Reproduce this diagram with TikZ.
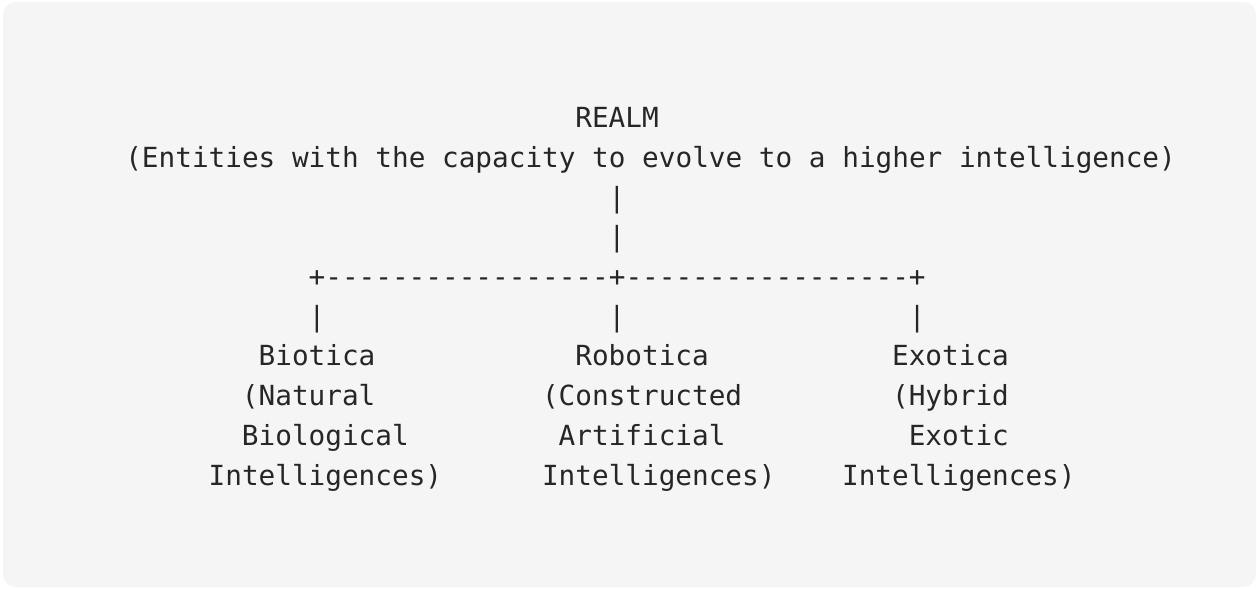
\documentclass[tikz,border=0pt]{standalone}
\usepackage{fontspec}
\newfontfamily\asciifont{DejaVu Sans Mono}
\definecolor{panel}{HTML}{F5F5F5}
\definecolor{ink}{HTML}{262626}
\tikzset{
  ascii/.style={anchor=base west, inner sep=0pt, outer sep=0pt, text=ink,
                font=\asciifont\fontsize{27.7pt}{33pt}\selectfont},
}
\begin{document}
\begin{tikzpicture}[x=1pt, y=-1pt]
  % canvas and rounded panel
  \fill[white] (0,0) rectangle (1259,589);
  \useasboundingbox (0,0) rectangle (1259,589);
  \fill[panel, rounded corners=13pt] (3,2) rectangle (1256,587);

  % character grid: one unit per column, one per row
  \begin{scope}[shift={(125.3,127.7)}, x=16.67pt, y=-39.7pt]
    \node[ascii] (realm) at (27,0) {REALM};
    \node[ascii] (realmdesc) at (0,1) {(Entities with the capacity to evolve to a higher intelligence)};
    \node[ascii] (stem1) at (29,2) {|};
    \node[ascii] (stem2) at (29,3) {|};
    \node[ascii] (bar) at (11,4) {+-----------------+-----------------+};
    \node[ascii] (dropB) at (11,5) {|};
    \node[ascii] (dropR) at (29,5) {|};
    \node[ascii] (dropE) at (47,5) {|};

    \node[ascii] (bio) at (8,6) {Biotica};
    \node[ascii] (bio1) at (7,7) {(Natural};
    \node[ascii] (bio2) at (7,8) {Biological};
    \node[ascii] (bio3) at (5,9) {Intelligences)};

    \node[ascii] (rob) at (27,6) {Robotica};
    \node[ascii] (rob1) at (25,7) {(Constructed};
    \node[ascii] (rob2) at (26,8) {Artificial};
    \node[ascii] (rob3) at (25,9) {Intelligences)};

    \node[ascii] (exo) at (46,6) {Exotica};
    \node[ascii] (exo1) at (46,7) {(Hybrid};
    \node[ascii] (exo2) at (47,8) {Exotic};
    \node[ascii] (exo3) at (43,9) {Intelligences)};
  \end{scope}
\end{tikzpicture}
\end{document}
